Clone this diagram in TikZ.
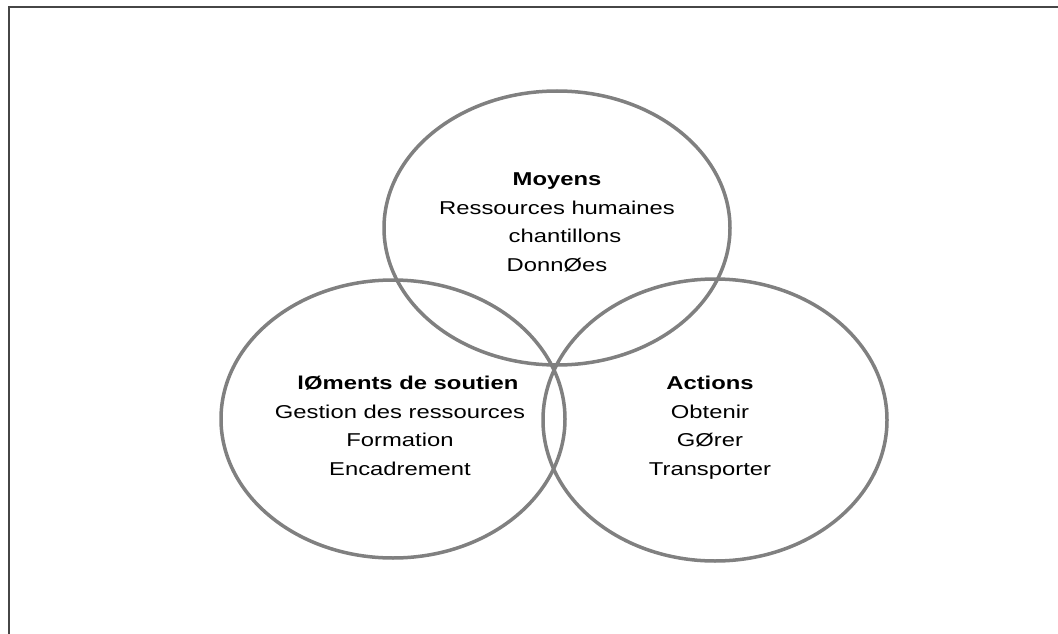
\documentclass[tikz,border=0pt]{standalone}
\usepackage{fontspec}
\setmainfont{Liberation Sans}
\definecolor{ringgray}{RGB}{128,128,128}
\definecolor{framegray}{RGB}{70,70,70}
\tikzset{
  ring/.style={draw=ringgray, line width=3.5pt},
  ringtext/.style={align=center, anchor=base, xscale=1.28,
    font=\fontsize{18.6}{28.5}\selectfont},
}

\begin{document}
\begin{tikzpicture}[x=1pt,y=-1pt]
    \useasboundingbox (0,0) rectangle (1058,634);
    % Frame
    \draw[framegray, line width=2pt] (1058,7.5) -- (8.5,7.5) -- (8.5,634);
    % Centres
    \coordinate (moy) at (557,228);
    \coordinate (elt) at (393,419);
    \coordinate (act) at (715,420);
    % Rings
    \draw[ring] (moy) ellipse [x radius=173pt, y radius=137pt];
    \draw[ring] (elt) ellipse [x radius=172pt, y radius=139pt];
    \draw[ring] (act) ellipse [x radius=172pt, y radius=141pt];
    % Labels (placed on the last baseline)
    \node[ringtext] (moyens) at (557,271)
      {\textbf{Moyens}\\Ressources humaines\\\phantom{É}chantillons\\DonnØes};
    \node[ringtext] (elements) at (400,475)
      {\textbf{\phantom{É}lØments de soutien}\\Gestion des ressources\\Formation\\Encadrement};
    \node[ringtext] (actions) at (710,475)
      {\textbf{Actions}\\Obtenir\\GØrer\\Transporter};
\end{tikzpicture}
\end{document}
